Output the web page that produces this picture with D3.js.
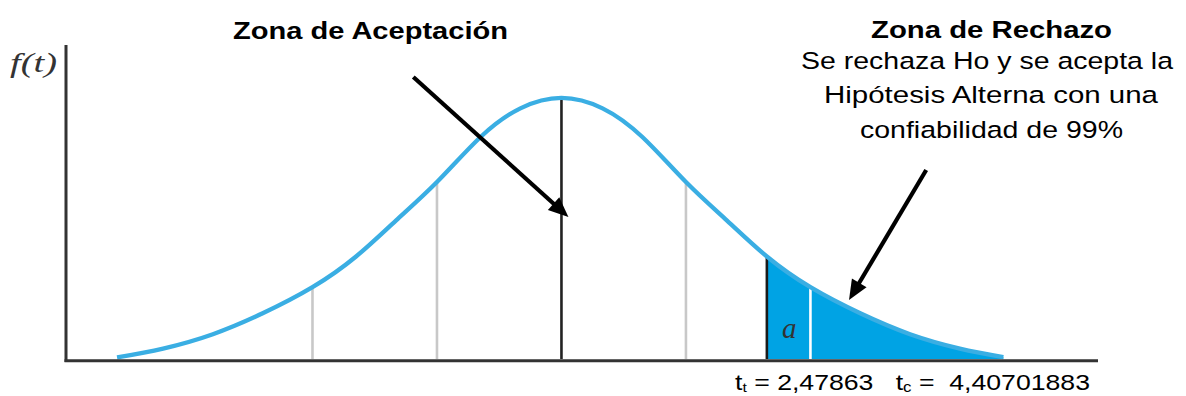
<!DOCTYPE html>
<html>
<head>
<meta charset="utf-8">
<script src="https://cdn.jsdelivr.net/npm/d3@7"></script>
<style>
  html, body { margin: 0; padding: 0; background: #fff; }
  svg { display: block; }
  text { white-space: pre; }
</style>
</head>
<body>
<svg id="chart" width="1186" height="396"></svg>
<script>
// ---- data ----
const curveT = [-3.57, -3.2, -2.8, -2.4, -2.0, -1.65, -1.33, -1.0, -0.65, -0.33, 0, 0.33, 0.65, 1.0, 1.33, 1.65, 2.0, 2.4, 2.8, 3.2, 3.55];
const curveF = [0.0024, 0.016, 0.038, 0.070, 0.110, 0.157, 0.212, 0.271, 0.340, 0.384, 0.400, 0.384, 0.340, 0.271, 0.212, 0.157, 0.110, 0.070, 0.038, 0.016, 0.003];
const grayGuides = [-2, -1, 1];
const centerGuide = [0];
const criticalT = 1.65;           // position of t_t (schematic)
const tailGuides = [2];
const tLabelTab = "2,47863";
const tLabelCalc = "4,40701883";
const acceptTitle = "Zona de Aceptación";
const rejectTitle = "Zona de Rechazo";
const rejectLines = ["Se rechaza Ho y se acepta la", "Hipótesis Alterna con una", "confiabilidad de 99%"];

const pts = curveT.map((t, i) => ({ t, f: curveF[i] }));
const fAt = t => pts.find(p => Math.abs(p.t - t) < 1e-9).f;

// ---- scales ----
const svg = d3.select("#chart");
const W = 1186, H = 396;
const x = d3.scaleLinear().domain([-3.98, 4.31]).range([66, 1098]);
const y = d3.scaleLinear().domain([0, 0.481]).range([359, 45]);
const smooth = d3.curveNatural;

// ---- tail fill (clipped to t >= t_t) ----
svg.append("clipPath").attr("id", "tail")
  .append("rect").attr("x", x(criticalT)).attr("y", 0).attr("width", W - x(criticalT)).attr("height", H);
const area = d3.area().x(d => x(d.t)).y0(y(0)).y1(d => y(d.f)).curve(smooth);
svg.append("path")
  .datum(pts)
  .attr("d", area)
  .attr("clip-path", "url(#tail)")
  .attr("fill", "#00a3e4");

// ---- guide lines ----
function guides(list, color) {
  svg.selectAll(null).data(list).enter().append("line")
    .attr("x1", d => x(d)).attr("x2", d => x(d))
    .attr("y1", y(0)).attr("y2", d => y(fAt(d)))
    .attr("stroke", color).attr("stroke-width", 2.6);
}
guides(grayGuides, "#c8c8c8");
guides(centerGuide, "#222222");
guides([criticalT], "#1a1a1a");
guides(tailGuides, "#ffffff");

// ---- curve ----
const line = d3.line().x(d => x(d.t)).y(d => y(d.f)).curve(smooth);
svg.append("path").datum(pts).attr("d", line)
  .attr("fill", "none").attr("stroke", "#3aaee3").attr("stroke-width", 4.3);

// ---- axes ----
svg.append("line").attr("x1", x(-3.98)).attr("x2", x(-3.98)).attr("y1", y(0.481)).attr("y2", y(0) + 3)
  .attr("stroke", "#333").attr("stroke-width", 3);
svg.append("line").attr("x1", x(-3.98) - 1.5).attr("x2", x(4.31)).attr("y1", y(0) + 1.7).attr("y2", y(0) + 1.7)
  .attr("stroke", "#333").attr("stroke-width", 3);

// ---- arrows ----
function arrow(t0, f0, t1, f1) {
  const x0 = x(t0), y0 = y(f0), x1 = x(t1), y1 = y(f1);
  const ang = Math.atan2(y1 - y0, x1 - x0);
  const L = 20, Wd = 8.5;
  const bx = x1 - L * Math.cos(ang), by = y1 - L * Math.sin(ang);
  svg.append("line").attr("x1", x0).attr("y1", y0)
    .attr("x2", bx + 2 * Math.cos(ang)).attr("y2", by + 2 * Math.sin(ang))
    .attr("stroke", "#000").attr("stroke-width", 4.2);
  const p = [[x1, y1],
    [bx + Wd * Math.sin(ang), by - Wd * Math.cos(ang)],
    [bx - Wd * Math.sin(ang), by + Wd * Math.cos(ang)]];
  svg.append("path").attr("d", "M" + p.map(q => q.join(",")).join("L") + "Z").attr("fill", "#000");
}
arrow(-1.19, 0.432, 0.056, 0.2175);
arrow(2.93, 0.2895, 2.31, 0.0904);

// ---- texts ----
function label(str, x0, x1, yb, size, weight) {
  return svg.append("text").attr("x", x0).attr("y", yb)
    .attr("font-family", "'Liberation Sans', Arial, sans-serif")
    .attr("font-size", size).attr("font-weight", weight || "normal")
    .attr("textLength", x1 - x0).attr("lengthAdjust", "spacingAndGlyphs")
    .attr("fill", "#000").text(str);
}
label(acceptTitle, 233, 508, 39, 23, "bold");
label(rejectTitle, 871, 1112, 38, 23, "bold");
label(rejectLines[0], 801, 1173, 69, 24.5);
label(rejectLines[1], 824, 1158, 103, 24.5);
label(rejectLines[2], 860, 1123, 138, 24.5);

// f(t)
svg.append("text").attr("x", 10).attr("y", 72)
  .attr("font-family", "'Liberation Serif', 'Times New Roman', serif")
  .attr("font-style", "italic").attr("font-size", 27)
  .attr("textLength", 47).attr("lengthAdjust", "spacingAndGlyphs")
  .attr("fill", "#333").text("f(t)");

// alpha label
svg.append("text").attr("x", x(1.83)).attr("y", y(0.032))
  .attr("font-family", "'Liberation Serif', 'Times New Roman', serif")
  .attr("font-style", "italic").attr("font-size", 29)
  .attr("text-anchor", "middle").attr("fill", "#333").text("a");

// bottom values
const bt = svg.append("text").attr("x", 735).attr("y", 390)
  .attr("font-family", "'Liberation Sans', Arial, sans-serif")
  .attr("font-size", 22).attr("fill", "#000")
  .attr("textLength", 355).attr("lengthAdjust", "spacingAndGlyphs");
bt.append("tspan").text("t");
bt.append("tspan").attr("font-size", 13).attr("dy", 2).text("t");
bt.append("tspan").attr("dy", -2).text(" = " + tLabelTab + "   t");
bt.append("tspan").attr("font-size", 14).attr("dy", 2).text("c");
bt.append("tspan").attr("dy", -2).text(" =  " + tLabelCalc);
</script>
</body>
</html>
